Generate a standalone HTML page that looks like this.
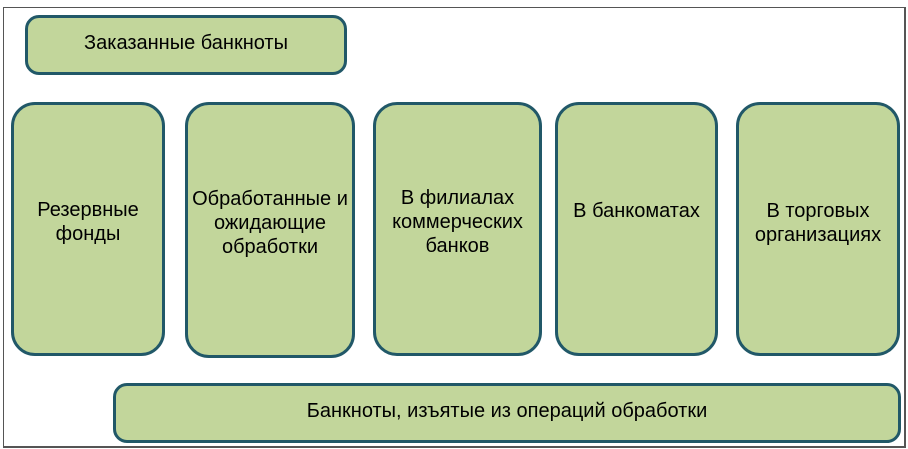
<!DOCTYPE html>
<html><head><meta charset="utf-8"><style>
body{margin:0;width:908px;height:449px;background:#fff;position:relative;overflow:hidden;font-family:"Liberation Sans",sans-serif}
.frame{position:absolute;left:3px;top:7px;width:900px;height:438px;border:1px solid #555;border-right-width:2px;border-bottom-width:2px}
.b{position:absolute;box-sizing:border-box;background:#c2d69b;border:3px solid #215868;border-radius:24px;display:flex;align-items:center;justify-content:center;text-align:center;font-size:20px;line-height:24px;color:#000}
.s{border-radius:14px}
</style></head><body>
<div class="frame"></div>
<div class="b s" style="left:25px;top:15px;width:322px;height:60px;padding-bottom:4px">Заказанные банкноты</div>
<div class="b" style="left:11px;top:102px;width:154px;height:254px;padding-bottom:14px">Резервные<br>фонды</div>
<div class="b" style="left:185px;top:102px;width:170px;height:256px;padding-bottom:14px">Обработанные и<br>ожидающие<br>обработки</div>
<div class="b" style="left:373px;top:102px;width:169px;height:254px;padding-bottom:14px">В филиалах<br>коммерческих<br>банков</div>
<div class="b" style="left:555px;top:102px;width:163px;height:254px;padding-bottom:36px">В банкоматах</div>
<div class="b" style="left:736px;top:102px;width:164px;height:254px;padding-bottom:12px">В торговых<br>организациях</div>
<div class="b s" style="left:113px;top:383px;width:788px;height:60px;padding-bottom:4px">Банкноты, изъятые из операций обработки</div>
</body></html>
